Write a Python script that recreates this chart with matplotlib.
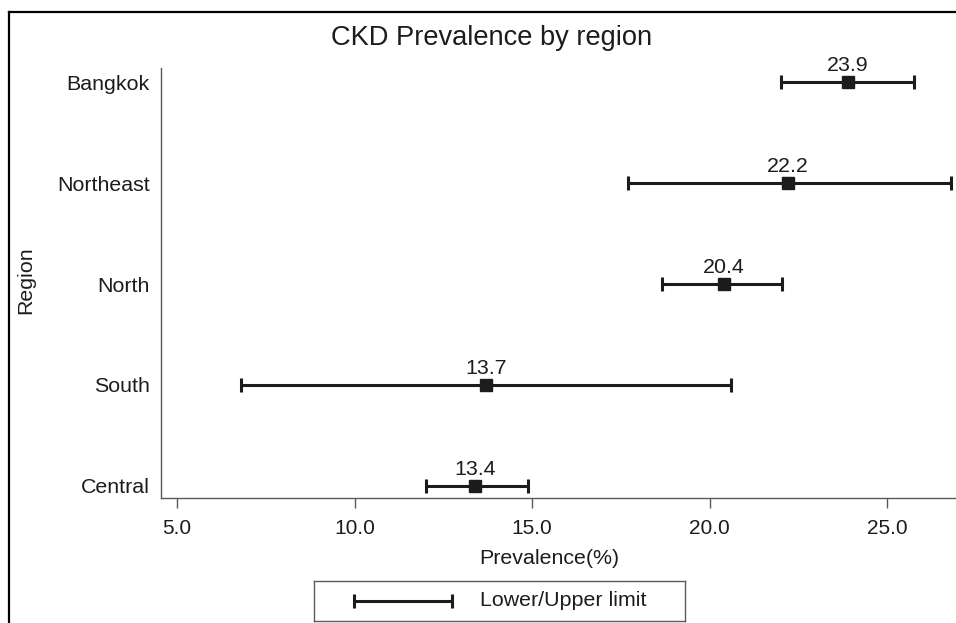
import numpy as np
import matplotlib
matplotlib.use("Agg")
import matplotlib.pyplot as plt
from matplotlib.lines import Line2D

plt.rcParams['font.family'] = ['Liberation Sans', 'DejaVu Sans']

# ── data ──────────────────────────────────────────────
regions    = ["Central", "South", "North", "Northeast", "Bangkok"]
prevalence = [13.4, 13.7, 20.4, 22.2, 23.9]
lower      = [12.0, 6.8, 18.65, 17.7, 22.0]
upper      = [14.9, 20.6, 22.05, 26.8, 25.75]
xticks     = [5.0, 10.0, 15.0, 20.0, 25.0]

W, H = 956, 623
INK = "#1c1c1c"
GREY = "#5a5a5a"
FS = 15.4

fig = plt.figure(figsize=(W / 100, H / 100), dpi=100)
ax = fig.add_axes([161 / W, 1 - 498 / H, (W - 161) / W, 430 / H])

y = np.arange(len(regions))
prev = np.array(prevalence)
xerr = [prev - np.array(lower), np.array(upper) - prev]
ax.errorbar(prev, y, xerr=xerr, fmt="s", color=INK, ecolor=INK,
            markersize=9, elinewidth=2.2, capsize=5, capthick=2.2)
for xi, yi, v in zip(prevalence, y, prevalence):
    ax.annotate(f"{v:.1f}", (xi, yi), xytext=(0, 5), textcoords="offset points",
                ha="center", va="bottom", fontsize=FS, color=INK)

ax.set_xlim(4.55, 26.94)
ax.set_ylim(-0.12, 4.14)
ax.set_yticks(y)
ax.set_yticklabels(regions)
ax.set_xticks(xticks)
ax.set_xticklabels([f"{t:.1f}" for t in xticks])
ax.tick_params(axis="y", length=0, pad=8, labelsize=FS, labelcolor=INK)
ax.tick_params(axis="x", length=7, width=1, color=GREY, pad=8, labelsize=15, labelcolor=INK)
for s in ("top", "right"):
    ax.spines[s].set_visible(False)
for s in ("left", "bottom"):
    ax.spines[s].set_color(GREY)
    ax.spines[s].set_linewidth(1.0)

ax.set_xlabel("Prevalence(%)", fontsize=FS, color=INK)
ax.xaxis.set_label_coords((549 - 161) / 795, -(558 - 498) / 430)
ax.xaxis.label.set_va("center")
ax.set_ylabel("Region", fontsize=FS, color=INK)
ax.yaxis.set_label_coords((26 - 161) / 795, (498 - 280) / 430)
ax.yaxis.label.set_va("center")

fig.text(492 / W, 1 - 45 / H, "CKD Prevalence by region", ha="center",
         va="baseline", fontsize=19.6, color=INK)

# legend box
lax = fig.add_axes([314 / W, 1 - 621 / H, 371 / W, 40 / H])
lax.set_xlim(0, 1)
lax.set_ylim(0, 1)
lax.set_xticks([]); lax.set_yticks([])
for s in lax.spines.values():
    s.set_color(GREY)
    s.set_linewidth(1.0)
lax.errorbar([0.24], [0.5], xerr=[[0.132], [0.132]], fmt="none", ecolor=INK,
             elinewidth=2.2, capsize=5, capthick=2.2)
lax.text(0.447, 0.5, "Lower/Upper limit", ha="left", va="center", fontsize=FS, color=INK)

# outer frame (left and top edges)
fig.add_artist(Line2D([9 / W, 9 / W], [0, 1 - 11.5 / H], transform=fig.transFigure,
                      color="black", linewidth=1.6))
fig.add_artist(Line2D([9 / W, 1], [1 - 11.5 / H, 1 - 11.5 / H], transform=fig.transFigure,
                      color="black", linewidth=1.6))

fig.savefig("out.png", dpi=100, facecolor="white")
